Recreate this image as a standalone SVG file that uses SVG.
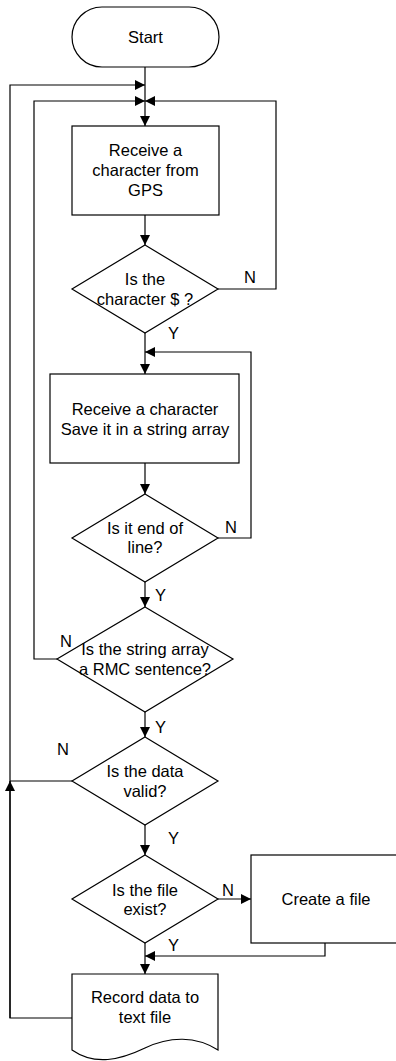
<svg xmlns="http://www.w3.org/2000/svg" width="396" height="1061" viewBox="0 0 396 1061">
  <style>
    .shape { fill: #ffffff; stroke: #000000; stroke-width: 1.2; }
    .line { fill: none; stroke: #000000; stroke-width: 1.2; }
    .label { font-family: "Liberation Sans", Arial, sans-serif; font-size: 16.5px; fill: #000000; text-anchor: middle; }
    .tag { font-family: "Liberation Sans", Arial, sans-serif; font-size: 16.5px; fill: #000000; }
  </style>
  <defs>
    <marker id="arrow" viewBox="0 0 10 10" refX="10" refY="5" markerWidth="10" markerHeight="10" markerUnits="userSpaceOnUse" orient="auto">
      <path d="M0,0 L10,5 L0,10 Z" fill="#000000"/>
    </marker>
  </defs>

  <rect width="396" height="1061" fill="#ffffff"/>

  <!-- connectors -->
  <g id="connectors">
    <!-- start to first box -->
    <path class="line" d="M145,67 V126" marker-end="url(#arrow)"/>
    <!-- outer loop from record data back to the top -->
    <path class="line" d="M72,1018 H10 V85 H145" marker-end="url(#arrow)"/>
    <path class="line" d="M10,1018 V781" marker-end="url(#arrow)"/>
    <!-- invalid data joins the outer loop -->
    <path class="line" d="M72,781 H10"/>
    <!-- not RMC: back to top -->
    <path class="line" d="M57,659 H34 V101 H145" marker-end="url(#arrow)"/>
    <!-- not $: back to top -->
    <path class="line" d="M218,289 H276 V101 H145" marker-end="url(#arrow)"/>
    <!-- box 1 to decision 1 -->
    <path class="line" d="M145,215 V245" marker-end="url(#arrow)"/>
    <!-- decision 1 Y to box 2 -->
    <path class="line" d="M145,333 V374" marker-end="url(#arrow)"/>
    <!-- end of line N loop -->
    <path class="line" d="M218,538 H251 V352 H145" marker-end="url(#arrow)"/>
    <!-- box 2 to decision 2 -->
    <path class="line" d="M145,463 V494" marker-end="url(#arrow)"/>
    <!-- decision 2 Y to decision 3 -->
    <path class="line" d="M145,582 V607" marker-end="url(#arrow)"/>
    <!-- decision 3 Y to decision 4 -->
    <path class="line" d="M145,712 V737" marker-end="url(#arrow)"/>
    <!-- decision 4 Y to decision 5 -->
    <path class="line" d="M145,825 V855" marker-end="url(#arrow)"/>
    <!-- decision 5 N to create file -->
    <path class="line" d="M218,899 H251" marker-end="url(#arrow)"/>
    <!-- create file back to main flow -->
    <path class="line" d="M325,943 V956 H145" marker-end="url(#arrow)"/>
    <!-- decision 5 Y to record -->
    <path class="line" d="M145,943 V974" marker-end="url(#arrow)"/>

    <text class="tag" x="244" y="283">N</text>
    <text class="tag" x="168" y="339">Y</text>
    <text class="tag" x="225" y="533">N</text>
    <text class="tag" x="155" y="601">Y</text>
    <text class="tag" x="60" y="647">N</text>
    <text class="tag" x="155" y="733">Y</text>
    <text class="tag" x="57" y="755">N</text>
    <text class="tag" x="168" y="844">Y</text>
    <text class="tag" x="222" y="896">N</text>
    <text class="tag" x="168" y="951">Y</text>
  </g>

  <g id="start">
    <rect class="shape" x="72" y="7" width="147" height="60" rx="30" ry="30"/>
    <text class="label" x="145.5" y="43">Start</text>
  </g>

  <g id="receive-gps">
    <rect class="shape" x="72" y="126" width="147" height="89"/>
    <text class="label" x="145.5" y="156">Receive a</text>
    <text class="label" x="145.5" y="176">character from</text>
    <text class="label" x="145.5" y="196">GPS</text>
  </g>

  <g id="is-dollar">
    <polygon class="shape" points="145,245 218,289 145,333 72,289"/>
    <text class="label" x="145" y="285">Is the</text>
    <text class="label" x="145" y="305">character $ ?</text>
  </g>

  <g id="save-char">
    <rect class="shape" x="50" y="374" width="189" height="89"/>
    <text class="label" x="145" y="415">Receive a character</text>
    <text class="label" x="145" y="435">Save it in a string array</text>
  </g>

  <g id="end-of-line">
    <polygon class="shape" points="145,494 218,538 145,582 72,538"/>
    <text class="label" x="145" y="534">Is it end of</text>
    <text class="label" x="145" y="553">line?</text>
  </g>

  <g id="is-rmc">
    <polygon class="shape" points="145,607 233,659 145,712 57,659"/>
    <text class="label" x="145" y="655">Is the string array</text>
    <text class="label" x="145" y="675">a RMC sentence?</text>
  </g>

  <g id="data-valid">
    <polygon class="shape" points="145,737 218,781 145,825 72,781"/>
    <text class="label" x="145" y="777">Is the data</text>
    <text class="label" x="145" y="797">valid?</text>
  </g>

  <g id="file-exist">
    <polygon class="shape" points="145,855 218,899 145,943 72,899"/>
    <text class="label" x="145" y="896">Is the file</text>
    <text class="label" x="145" y="915">exist?</text>
  </g>

  <g id="create-file">
    <rect class="shape" x="251" y="855" width="150" height="88"/>
    <text class="label" x="326" y="905">Create a file</text>
  </g>

  <g id="record-data">
    <path class="shape" d="M72,974 H218 V1050 C196,1036 170,1036 145,1048 C120,1060 95,1066 72,1050 Z"/>
    <text class="label" x="145" y="1003">Record data to</text>
    <text class="label" x="145" y="1023">text file</text>
  </g>
</svg>
